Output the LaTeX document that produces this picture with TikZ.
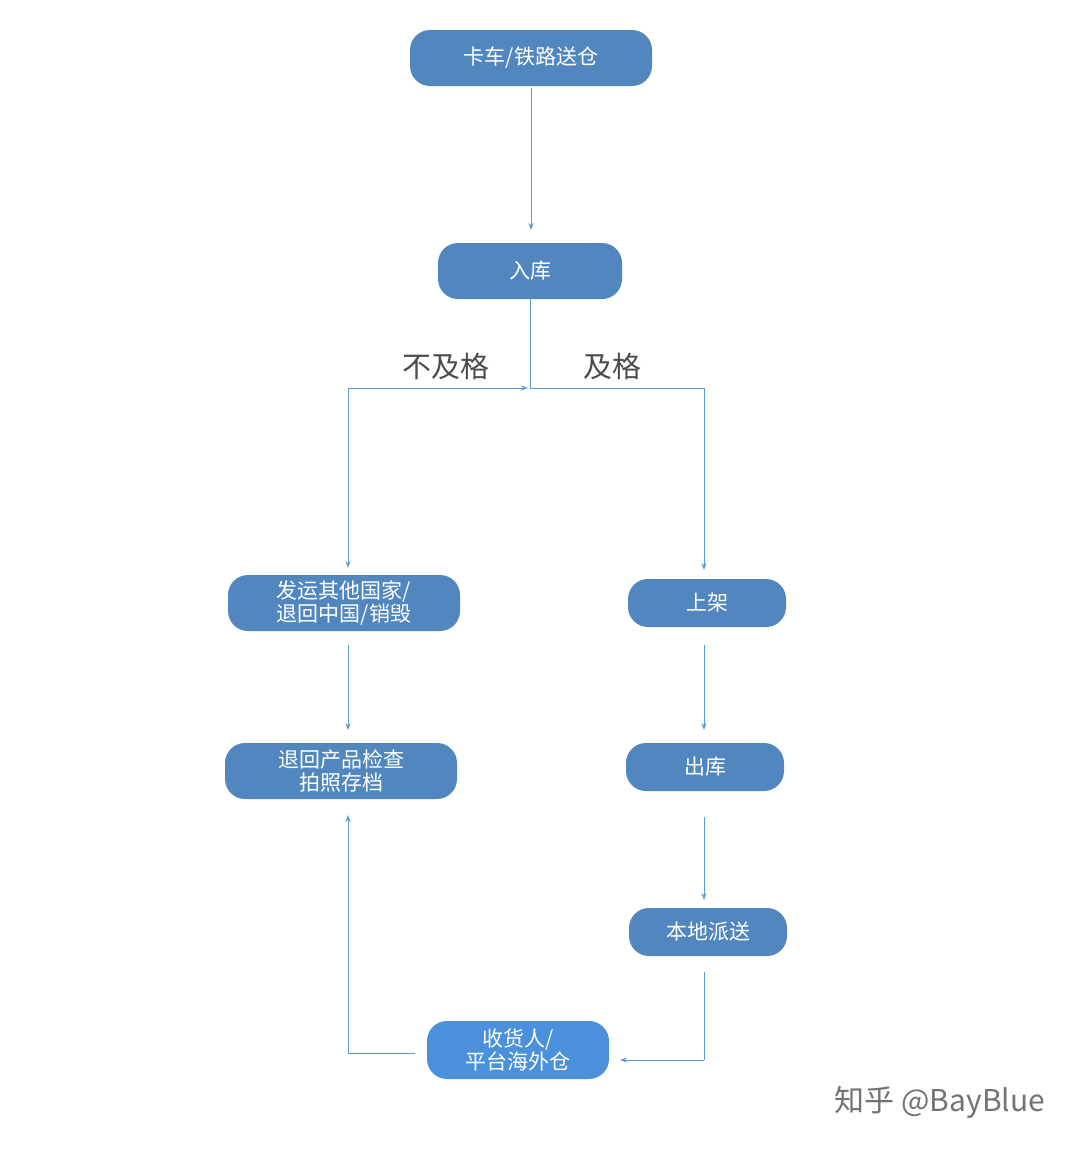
\documentclass[tikz,border=0pt]{standalone}
\usepackage{fontspec}
\setmainfont{Noto Sans CJK SC}
\usetikzlibrary{arrows.meta}
\definecolor{nodeblue}{HTML}{5187BE}
\definecolor{nodeblue2}{HTML}{4A90DA}
\definecolor{lineblue}{HTML}{5B9BD5}
\begin{document}
\begin{tikzpicture}[x=1pt,y=-1pt,
  box/.style={draw=none,fill=nodeblue,rounded corners=20pt,text=white,align=center,
    font=\fontsize{21}{23}\selectfont,minimum height=56pt,inner sep=0pt},
  ln/.style={draw=lineblue,line width=0.9pt},
  arr/.style={ln,-{Stealth[length=7pt,width=5pt]}},
  lab/.style={text=black!70,font=\fontsize{29}{31}\selectfont}]
\useasboundingbox (0,0) rectangle (1080,1151);
\fill[white] (0,0) rectangle (1080,1151);
\node[box,minimum width=242pt] (a) at (531,58) {卡车/铁路送仓};
\node[box,minimum width=184pt] (b) at (530,271) {入库};
\node[box,minimum width=232pt] (c) at (344,603) {发运其他国家/\\退回中国/销毁};
\node[box,minimum width=158pt,minimum height=48pt] (d) at (707,603) {上架};
\node[box,minimum width=232pt] (e) at (341,771) {退回产品检查\\拍照存档};
\node[box,minimum width=158pt,minimum height=48pt] (f) at (705,767) {出库};
\node[box,minimum width=158pt,minimum height=48pt] (g) at (708,932) {本地派送};
\node[box,fill=nodeblue2,minimum width=182pt,minimum height=58pt] (h) at (518,1050) {收货人/\\平台海外仓};
\node[lab] (l1) at (446,366) {不及格};
\node[lab] (l2) at (612,366) {及格};
\node[text=black!55,font=\fontsize{30}{32}\selectfont] (w) at (940,1102) {知乎 @BayBlue};
\coordinate (j) at (530,388);
\coordinate (jl) at (348,388);
\coordinate (jr) at (704,388);
\coordinate (gb) at (704,1060);
\coordinate (hl) at (348,1053);
\draw[arr] (531,88) -- (531,230);
\draw[ln] (b.south) -- (j);
\draw[arr] (jl) -- (528,388);
\draw[ln] (j) -- (jr);
\draw[arr] (jl) -- (348,568);
\draw[arr] (jr) -- (704,570);
\draw[arr] (348,645) -- (348,730);
\draw[arr] (704,645) -- (704,730);
\draw[arr] (704,817) -- (704,900);
\draw[ln] (704,972) -- (gb);
\draw[arr] (gb) -- (620,1060);
\draw[ln] (h.west |- hl) ++(-12,0) -- (hl);
\draw[arr] (hl) -- (348,815);
\end{tikzpicture}
\end{document}
